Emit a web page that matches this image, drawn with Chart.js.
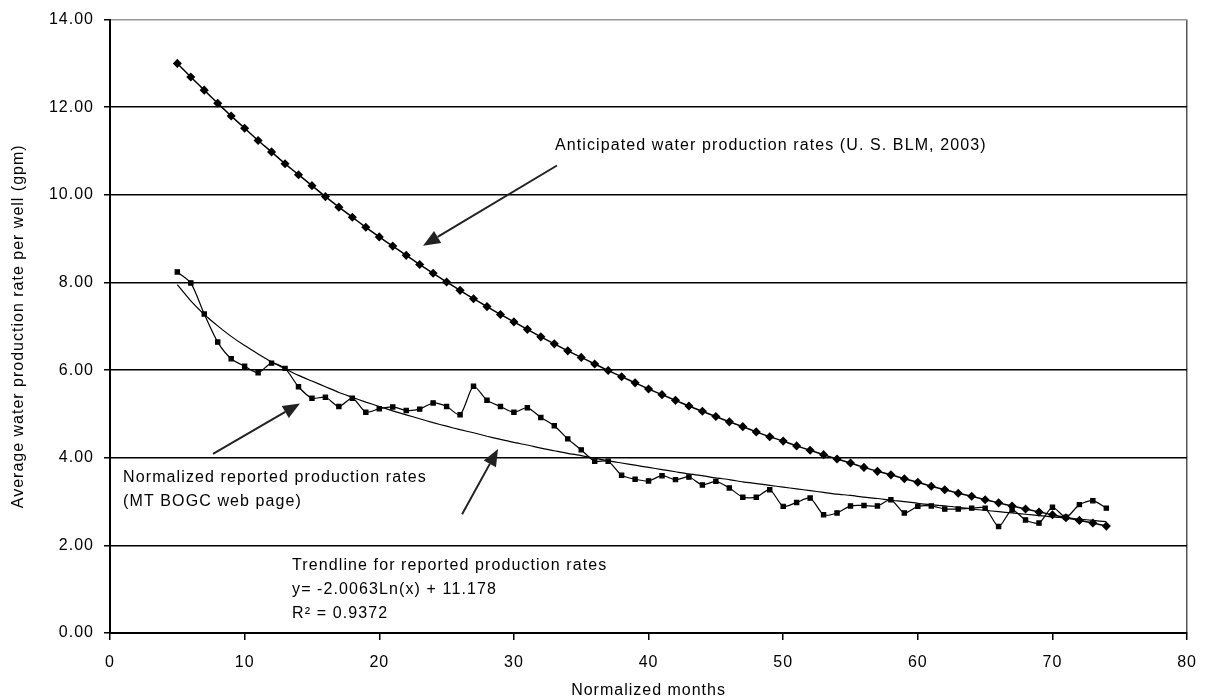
<!DOCTYPE html>
<html>
<head>
<meta charset="utf-8">
<script src="https://cdn.jsdelivr.net/npm/chart.js@4.4.0/dist/chart.umd.min.js"></script>
<style>
  html, body { margin: 0; padding: 0; background: #fff; }
  canvas { display: block; }
</style>
</head>
<body>
<canvas id="waterChart" width="1209" height="700"></canvas>
<script>
// normalized months (x values)
const months = [5, 6, 7, 8, 9, 10, 11, 12, 13, 14, 15, 16, 17, 18, 19, 20, 21, 22, 23, 24,
  25, 26, 27, 28, 29, 30, 31, 32, 33, 34, 35, 36, 37, 38, 39, 40, 41, 42, 43, 44,
  45, 46, 47, 48, 49, 50, 51, 52, 53, 54, 55, 56, 57, 58, 59, 60, 61, 62, 63, 64,
  65, 66, 67, 68, 69, 70, 71, 72, 73, 74];

// anticipated rates (U.S. BLM, 2003)
const anticipated = [13.00, 12.69, 12.39, 12.09, 11.80, 11.52, 11.24, 10.98, 10.71, 10.46,
  10.21, 9.96, 9.72, 9.49, 9.26, 9.04, 8.83, 8.62, 8.41, 8.21,
  8.01, 7.82, 7.63, 7.45, 7.27, 7.10, 6.93, 6.76, 6.60, 6.44,
  6.29, 6.14, 5.99, 5.85, 5.71, 5.57, 5.44, 5.31, 5.18, 5.06,
  4.94, 4.82, 4.71, 4.59, 4.48, 4.38, 4.27, 4.17, 4.07, 3.97,
  3.88, 3.78, 3.69, 3.61, 3.52, 3.44, 3.35, 3.27, 3.19, 3.12,
  3.04, 2.97, 2.90, 2.83, 2.76, 2.70, 2.63, 2.57, 2.51, 2.44];

// normalized reported rates (MT BOGC)
const reported = [8.24, 7.99, 7.28, 6.64, 6.26, 6.09, 5.94, 6.16, 6.04, 5.62,
  5.36, 5.38, 5.17, 5.36, 5.04, 5.12, 5.16, 5.08, 5.11, 5.25,
  5.17, 4.98, 5.63, 5.31, 5.17, 5.04, 5.14, 4.92, 4.73, 4.43,
  4.18, 3.92, 3.92, 3.60, 3.51, 3.47, 3.59, 3.50, 3.56, 3.38,
  3.46, 3.31, 3.10, 3.10, 3.27, 2.89, 2.98, 3.08, 2.70, 2.74,
  2.90, 2.91, 2.90, 3.04, 2.74, 2.89, 2.90, 2.83, 2.83, 2.85,
  2.85, 2.43, 2.81, 2.58, 2.51, 2.87, 2.64, 2.93, 3.02, 2.85];

// log trendline as drawn
const trend = [7.95, 7.58, 7.27, 7.01, 6.77, 6.56, 6.37, 6.19, 6.03, 5.88,
  5.75, 5.62, 5.49, 5.38, 5.27, 5.17, 5.07, 4.98, 4.89, 4.80,
  4.72, 4.64, 4.57, 4.49, 4.42, 4.35, 4.29, 4.22, 4.16, 4.10,
  4.05, 3.99, 3.93, 3.88, 3.83, 3.78, 3.73, 3.68, 3.63, 3.59,
  3.54, 3.50, 3.45, 3.41, 3.37, 3.33, 3.29, 3.25, 3.21, 3.17,
  3.14, 3.10, 3.07, 3.03, 3.00, 2.96, 2.93, 2.90, 2.87, 2.83,
  2.80, 2.77, 2.74, 2.71, 2.68, 2.65, 2.63, 2.60, 2.57, 2.54];

const xTicks = [0, 10, 20, 30, 40, 50, 60, 70, 80];
const yTicks = [0, 2, 4, 6, 8, 10, 12, 14];

// annotation text and arrows, in data units
const notes = [
  { lines: ['Anticipated water production rates (U. S. BLM, 2003)'], x: 33.05, y: 11.12 },
  { lines: ['Normalized reported production rates', '(MT BOGC web page)'], x: 0.97, y: 3.54 },
  { lines: ['Trendline for reported production rates', 'y= -2.0063Ln(x) + 11.178', 'R² = 0.9372'], x: 13.52, y: 1.53 }
];
const arrows = [
  { from: [33.2, 10.67], to: [23.25, 8.84] },
  { from: [7.65, 4.09], to: [14.11, 5.24] },
  { from: [26.15, 2.71], to: [28.82, 4.20] }
];

function pairs(ys) {
  return months.map((m, i) => ({ x: m, y: ys[i] }));
}

const FONT = '"Liberation Sans", Arial, sans-serif';
Chart.defaults.font.family = FONT;
Chart.defaults.color = '#000';

// the old chart has loose letter spacing everywhere
const spacingPlugin = {
  id: 'spacing',
  beforeDraw(chart) {
    chart.ctx.letterSpacing = '1px';
  }
};

const notesPlugin = {
  id: 'notes',
  afterDatasetsDraw(chart) {
    const ctx = chart.ctx;
    const xs = chart.scales.x, ys = chart.scales.y;
    ctx.save();
    ctx.letterSpacing = '1.1px';
    ctx.fillStyle = '#000';
    ctx.font = '16px ' + FONT;
    ctx.textBaseline = 'middle';
    ctx.textAlign = 'left';
    notes.forEach(n => {
      const px = xs.getPixelForValue(n.x);
      const py = ys.getPixelForValue(n.y);
      n.lines.forEach((t, i) => ctx.fillText(t, px, py + i * 24));
    });
    ctx.strokeStyle = '#222';
    ctx.fillStyle = '#222';
    ctx.lineWidth = 2;
    arrows.forEach(a => {
      const x1 = xs.getPixelForValue(a.from[0]), y1 = ys.getPixelForValue(a.from[1]);
      const x2 = xs.getPixelForValue(a.to[0]), y2 = ys.getPixelForValue(a.to[1]);
      const ang = Math.atan2(y2 - y1, x2 - x1);
      const head = 17, half = 7;
      const bx = x2 - head * Math.cos(ang), by = y2 - head * Math.sin(ang);
      ctx.beginPath();
      ctx.moveTo(x1, y1);
      ctx.lineTo(bx, by);
      ctx.stroke();
      ctx.beginPath();
      ctx.moveTo(x2, y2);
      ctx.lineTo(bx + half * Math.sin(ang), by - half * Math.cos(ang));
      ctx.lineTo(bx - half * Math.sin(ang), by + half * Math.cos(ang));
      ctx.closePath();
      ctx.fill();
    });
    ctx.restore();
  }
};

new Chart(document.getElementById('waterChart'), {
  type: 'line',
  data: {
    datasets: [
      {
        label: 'Trendline',
        data: pairs(trend),
        borderColor: '#000',
        borderWidth: 1.2,
        pointRadius: 0,
        tension: 0.2
      },
      {
        label: 'Normalized reported production rates',
        data: pairs(reported),
        borderColor: '#000',
        borderWidth: 1.2,
        pointStyle: 'rect',
        pointRadius: 3,
        pointBackgroundColor: '#000',
        pointBorderColor: '#000',
        tension: 0.25
      },
      {
        label: 'Anticipated water production rates',
        data: pairs(anticipated),
        borderColor: '#000',
        borderWidth: 1.5,
        pointStyle: 'rectRot',
        pointRadius: 3.5,
        pointBackgroundColor: '#000',
        pointBorderColor: '#000',
        tension: 0.2
      }
    ]
  },
  options: {
    responsive: false,
    animation: false,
    layout: { padding: { top: 10, right: 13, bottom: 0, left: 0 } },
    plugins: { legend: { display: false }, tooltip: { enabled: false } },
    scales: {
      x: {
        type: 'linear',
        min: 0,
        max: 80,
        afterBuildTicks: s => { s.ticks = xTicks.map(v => ({ value: v })); },
        ticks: { font: { size: 16 }, color: '#000', padding: 13 },
        grid: {
          drawOnChartArea: true,
          color: c => (c.tick && c.tick.value === 80 ? '#555' : 'rgba(0,0,0,0)'),
          lineWidth: 1.5,
          tickColor: '#000',
          tickLength: 7
        },
        border: { color: '#000', width: 2 },
        title: {
          display: true,
          text: 'Normalized months',
          font: { size: 16 },
          color: '#000',
          padding: { top: 7, bottom: 0 }
        },
        afterFit: s => { s.height = 67; }
      },
      y: {
        min: 0,
        max: 14,
        afterBuildTicks: s => { s.ticks = yTicks.map(v => ({ value: v })); },
        ticks: { font: { size: 16 }, color: '#000', padding: 10, callback: v => v.toFixed(2) },
        grid: {
          color: c => (c.tick && c.tick.value === 14 ? '#999' : '#000'),
          lineWidth: 1.5,
          tickColor: '#000',
          tickLength: 6
        },
        border: { color: '#000', width: 2 },
        title: {
          display: true,
          text: 'Average water production rate per well (gpm)',
          font: { size: 16 },
          color: '#000',
          padding: { top: 9, bottom: 0 }
        },
        afterFit: s => { s.width = 110; }
      }
    }
  },
  plugins: [spacingPlugin, notesPlugin]
});
</script>
</body>
</html>
